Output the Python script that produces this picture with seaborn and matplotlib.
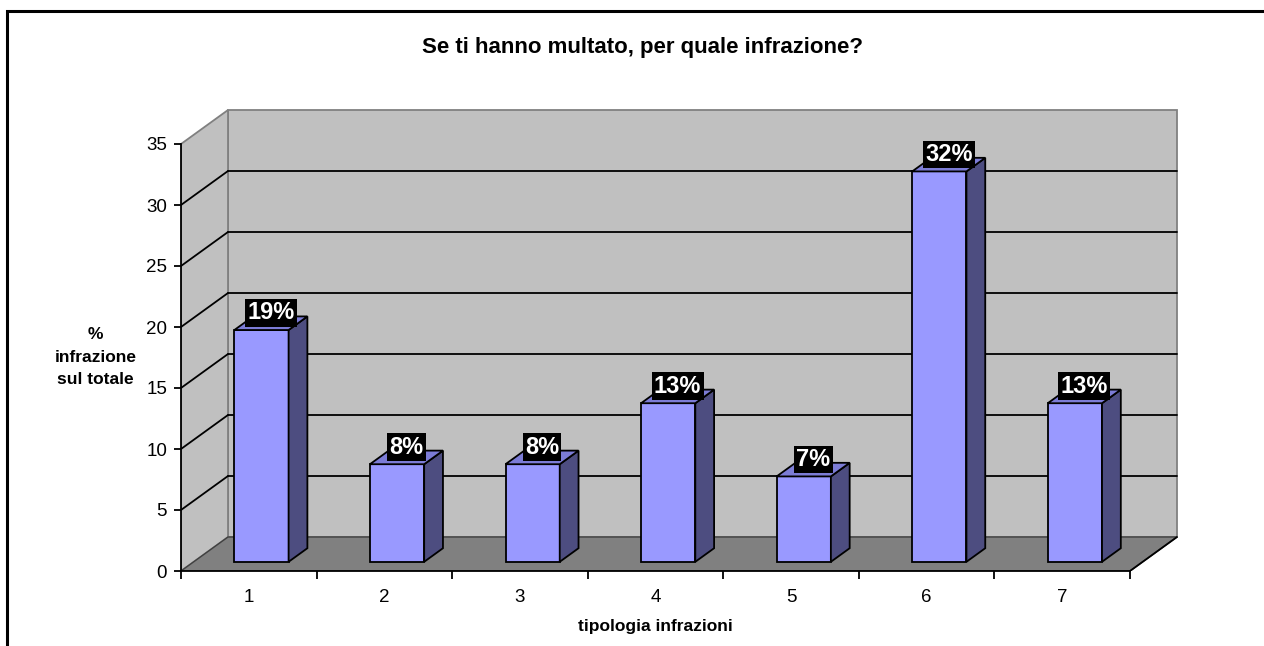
import matplotlib
matplotlib.use("Agg")
import matplotlib.pyplot as plt
from matplotlib.patches import Polygon, Rectangle
import numpy as np
import pandas as pd
import seaborn as sns

# data
categories = ["1", "2", "3", "4", "5", "6", "7"]
values = [19, 8, 8, 13, 7, 32, 13]
yticks = [0, 5, 10, 15, 20, 25, 30, 35]

title = "Se ti hanno multato, per quale infrazione?"
xlabel = "tipologia infrazioni"
ylabel = "%\ninfrazione\nsul totale"

sns.set_style("white")
plt.rcParams["font.family"] = ["Liberation Sans", "DejaVu Sans"]
plt.rcParams["text.color"] = "black"

W, H = 1264, 646
fig = plt.figure(figsize=(W / 100, H / 100), dpi=100)

# pixel geometry of the front plane
x0_px, y0_px = 181, 571
px_x, px_y = 135.57, 12.2
xmax, ymax = 7.4, 38.5
ax = fig.add_axes([x0_px / W, (H - y0_px) / H, xmax * px_x / W, ymax * px_y / H])

n = len(categories)
ytop = yticks[-1]
DX, DY = 47 / px_x, 34 / px_y          # depth of the box
front = 0.27                            # bar front depth fraction
bdepth = 0.4                            # bar depth fraction
xf, zf = front * DX, front * DY
bdx, bdy = bdepth * DX, bdepth * DY

# walls and floor
wall = "#C0C0C0"
ax.add_patch(Polygon([(DX, DY), (n + DX, DY), (n + DX, ytop + DY), (DX, ytop + DY)],
                     closed=True, fc=wall, ec="#808080", lw=1.3, zorder=0))
ax.add_patch(Polygon([(0, 0), (DX, DY), (DX, ytop + DY), (0, ytop)],
                     closed=True, fc=wall, ec="#808080", lw=1.3, zorder=0))
ax.add_patch(Polygon([(0, 0), (n, 0), (n + DX, DY), (DX, DY)],
                     closed=True, fc="#808080", ec="#404040", lw=1.0, zorder=0.5))
ax.plot([n, n + DX], [0, DY], color="black", lw=1.3, zorder=0.6)

# gridlines on back and side wall
for v in yticks[1:-1]:
    ax.plot([DX, n + DX], [v + DY, v + DY], color="black", lw=1.3, zorder=0.7)
    ax.plot([0, DX], [v, v + DY], color="black", lw=1.3, zorder=0.7)

# bars
df = pd.DataFrame({"pos": np.arange(n) + 0.5 + xf, "val": values})
sns.barplot(data=df, x="pos", y="val", native_scale=True, width=0.4,
            color="#9999FF", saturation=1, edgecolor="black", linewidth=1.3,
            ax=ax, zorder=2)

for p, v in zip(ax.patches[3:], values):
    p.set_y(zf)
    p.set_zorder(2)
    xl = p.get_x()
    xr = xl + p.get_width()
    top = zf + v
    ax.add_patch(Polygon([(xr, zf), (xr + bdx, zf + bdy), (xr + bdx, top + bdy), (xr, top)],
                         closed=True, fc="#4D4D80", ec="black", lw=1.3, zorder=2))
    ax.add_patch(Polygon([(xl, top), (xr, top), (xr + bdx, top + bdy), (xl + bdx, top + bdy)],
                         closed=True, fc="#7C7CD6", ec="black", lw=1.3, zorder=2))
    ax.text((xl + xr) / 2 + bdx / 2, v + 2.15, f"{v}%", ha="center", va="center",
            color="white", fontsize=17, fontweight="bold", zorder=5,
            bbox=dict(boxstyle="square,pad=0.1", fc="black", ec="none"))

ax.set_xlim(0, xmax)
ax.set_ylim(0, ymax)
for s in ["top", "right"]:
    ax.spines[s].set_visible(False)
ax.spines["left"].set_bounds(0, ytop)
ax.spines["bottom"].set_bounds(0, n)
for s in ["left", "bottom"]:
    ax.spines[s].set_color("black")
    ax.spines[s].set_linewidth(1.3)
    ax.spines[s].set_zorder(3)

ax.set_yticks(yticks)
ax.set_yticklabels([str(t) for t in yticks])
ax.set_xticks(np.arange(n + 1))
ax.set_xticklabels([])
ax.set_xticks(np.arange(n) + 0.5, minor=True)
ax.set_xticklabels(categories, minor=True)
ax.tick_params(axis="y", left=True, length=5, width=1.3, color="black", pad=5,
               labelsize=13.5, labelcolor="black")
ax.tick_params(axis="x", which="major", bottom=True, length=6, width=1.3, color="black")
ax.tick_params(axis="x", which="minor", bottom=True, length=0, pad=13,
               labelsize=13.5, labelcolor="black")
ax.set_xlabel("")
ax.set_ylabel("")
ax.patch.set_visible(False)

fig.text(642 / W, (H - 47) / H, title, ha="center", va="center",
         fontsize=16, fontweight="bold")
fig.text(655.5 / W, (H - 627) / H, xlabel, ha="center", va="center",
         fontsize=12.5, fontweight="bold")
fig.text(95.5 / W, (H - 357) / H, ylabel, ha="center", va="center",
         fontsize=12.5, fontweight="bold", linespacing=1.65, multialignment="center")

# chart border
fig.add_artist(Rectangle((7 / W, -0.05), 1.2, (H - 11) / H + 0.05, transform=fig.transFigure,
                         fill=False, ec="black", lw=2.2))

fig.savefig("out.png", dpi=100)
